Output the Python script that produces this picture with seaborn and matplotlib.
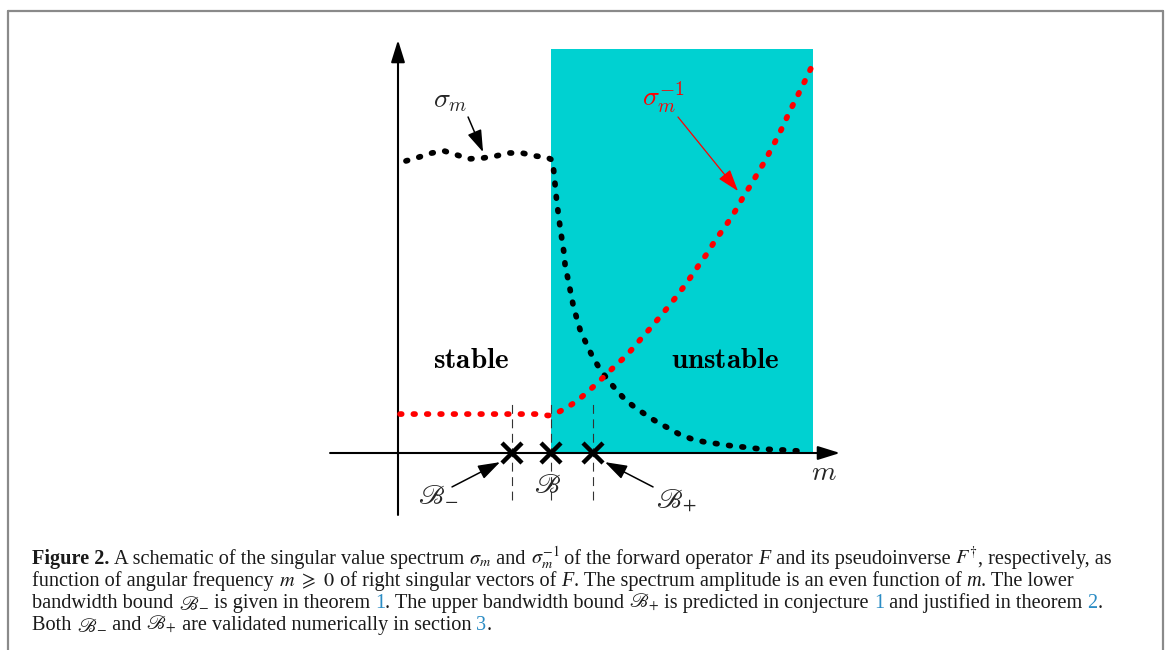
import numpy as np
import pandas as pd
import matplotlib
matplotlib.use("Agg")
import matplotlib.pyplot as plt
import seaborn as sns
from matplotlib.lines import Line2D
from matplotlib.patches import Rectangle

# ---------------- data (schematic units: m in units of B, sigma normalised to plateau) ----
sigma_m = [0.052, 0.137, 0.222, 0.301, 0.386, 0.464, 0.556, 0.641, 0.725, 0.810, 0.895,
           0.974, 1.010, 1.020, 1.037, 1.059, 1.072, 1.085, 1.093, 1.111, 1.129, 1.146,
           1.168, 1.194, 1.229, 1.268, 1.312, 1.364, 1.418, 1.477, 1.542, 1.621, 1.693,
           1.765, 1.837, 1.922, 2.007, 2.092, 2.183, 2.261, 2.346, 2.438, 2.523, 2.614]
sigma_vals = [0.990, 1.003, 1.017, 1.024, 1.010, 0.997, 1.000, 1.007, 1.017, 1.017, 1.007,
              1.002, 0.993, 0.946, 0.855, 0.767, 0.722, 0.678, 0.632, 0.590, 0.543, 0.498,
              0.457, 0.411, 0.373, 0.330, 0.291, 0.253, 0.219, 0.185, 0.157, 0.129, 0.105,
              0.085, 0.064, 0.047, 0.037, 0.031, 0.024, 0.020, 0.015, 0.012, 0.010, 0.007]
inv_m = [0.013, 0.300, 0.600, 0.928, 0.980, 1.013, 1.098, 1.163, 1.229, 1.294, 1.353,
         1.418, 1.484, 1.544, 1.599, 1.658, 1.712, 1.767, 1.822, 1.876, 1.926, 1.974,
         2.024, 2.072, 2.122, 2.170, 2.218, 2.257, 2.305, 2.348, 2.392, 2.436, 2.475,
         2.514, 2.549, 2.588, 2.627, 2.667, 2.706]
inv_vals = [0.132, 0.132, 0.132, 0.132, 0.127, 0.129, 0.152, 0.174, 0.202, 0.233, 0.262,
            0.295, 0.326, 0.360, 0.394, 0.428, 0.462, 0.496, 0.532, 0.569, 0.606, 0.643,
            0.679, 0.720, 0.756, 0.792, 0.832, 0.869, 0.908, 0.946, 0.984, 1.027, 1.065,
            1.106, 1.146, 1.187, 1.227, 1.269, 1.312]
bounds_m = [0.745, 1.0, 1.275]
bound_labels = [r'$\mathscr{B}_{-}$', r'$\mathscr{B}$', r'$\mathscr{B}_{+}$']
unstable_span = [1.0, 2.712]
unstable_top = 1.369
region_labels = [r'$\mathbf{stable}$', r'$\mathbf{unstable}$']

caption_lines = [
    [("Figure 2.", "b"), (" A schematic of the singular value spectrum ", "n"), (r"$\sigma_m$", "m"),
     (" and ", "n"), (r"$\sigma_m^{-1}$", "m"), (" of the forward operator ", "n"), ("F", "i"),
     (" and its pseudoinverse ", "n"), (r"$F^{\dagger}$", "m"), (", respectively, as", "n")],
    [("function of angular frequency ", "n"), (r"$m\ \geqslant\ 0$", "m"),
     (" of right singular vectors of ", "n"), ("F", "i"),
     (". The spectrum amplitude is an even function of ", "n"), ("m", "i"), (". The lower", "n")],
    [("bandwidth bound ", "n"), (r"$\mathscr{B}_{-}$", "m"), (" is given in theorem ", "n"), ("1", "l"),
     (". The upper bandwidth bound ", "n"), (r"$\mathscr{B}_{+}$", "m"),
     (" is predicted in conjecture ", "n"), ("1", "l"), (" and justified in theorem ", "n"),
     ("2", "l"), (".", "n")],
    [("Both ", "n"), (r"$\mathscr{B}_{-}$", "m"), (" and ", "n"), (r"$\mathscr{B}_{+}$", "m"),
     (" are validated numerically in section ", "n"), ("3", "l"), (".", "n")],
]

# ---------------- figure ----------------
sns.set_theme(style="white")
plt.rcParams["font.family"] = ["Liberation Serif", "DejaVu Serif"]

W, H = 1167, 650
fig = plt.figure(figsize=(W / 100, H / 100), dpi=100)
fig.patch.set_facecolor("white")

x0, y0, sx, sy = 398, 453, 153, 295
xlim = (-0.6, 3.0)
ylim = (-0.3, 1.5)
ax = fig.add_axes([(x0 + xlim[0] * sx) / W,
                   (H - (y0 - ylim[0] * sy)) / H,
                   (xlim[1] - xlim[0]) * sx / W,
                   (ylim[1] - ylim[0]) * sy / H])
ax.set_xlim(xlim)
ax.set_ylim(ylim)
ax.set_axis_off()

# unstable region
ax.add_patch(Rectangle((unstable_span[0], 0), unstable_span[1] - unstable_span[0], unstable_top,
                       facecolor="#00d1d1", edgecolor="none", zorder=0))

# axes arrows
axis_arrow = dict(arrowstyle="-|>,head_length=0.9,head_width=0.28", color="black", lw=1.5,
                  mutation_scale=15, shrinkA=0, shrinkB=0)
ax.annotate("", xy=(2.889, 0), xytext=(-0.444, 0), arrowprops=axis_arrow, zorder=3)
ax.annotate("", xy=(0, 1.400), xytext=(0, -0.210), arrowprops=axis_arrow, zorder=3)

# dotted curves
dot_style = dict(lw=4.1, linestyle=(0, (0.3, 2.05)), dash_capstyle="round")
sns.lineplot(x=sigma_m, y=sigma_vals, ax=ax, color="black", sort=False, estimator=None,
             zorder=4, **dot_style)
sns.lineplot(x=inv_m, y=inv_vals, ax=ax, color="#ff0000", sort=False, estimator=None,
             zorder=5, **dot_style)

# bounds: dashed guides and crosses
for b in bounds_m:
    ax.plot([b, b], [-0.159, 0.173], color="#333333", lw=0.8, linestyle=(0, (8, 5)), zorder=2)
ax.plot(bounds_m, [0] * len(bounds_m), linestyle="none", marker="x", ms=15, mew=3.2,
        color="black", zorder=6)

# labels
ax.text(0.340, 1.193, r"$\sigma_m$", math_fontfamily="cm", fontsize=20, ha="center", va="center")
ax.text(1.732, 1.207, r"$\sigma_m^{-1}$", math_fontfamily="cm", fontsize=20, ha="center",
        va="center", color="#ff0000")
ax.text(0.480, 0.288, region_labels[0], math_fontfamily="cm", fontsize=21, ha="center",
        va="baseline", color="black")
ax.text(2.141, 0.288, region_labels[1], math_fontfamily="cm", fontsize=21, ha="center",
        va="baseline", color="black")
ax.text(2.784, -0.071, r"$m$", math_fontfamily="cm", fontsize=20, ha="center", va="center")

lab_pos = [(0.261, -0.139), (0.974, -0.112), (1.817, -0.159)]
for (px, py), lab in zip(lab_pos, bound_labels):
    ax.text(px, py, lab, math_fontfamily="stix", fontsize=20, ha="center", va="center")

small_arrow = dict(arrowstyle="-|>,head_length=0.75,head_width=0.25", color="black", lw=1.1,
                   mutation_scale=18, shrinkA=0, shrinkB=0)
ax.annotate("", xy=(0.556, 1.020), xytext=(0.458, 1.139), arrowprops=small_arrow, zorder=7)
ax.annotate("", xy=(0.667, -0.031), xytext=(0.353, -0.115), arrowprops=small_arrow, zorder=7)
ax.annotate("", xy=(1.353, -0.031), xytext=(1.667, -0.115), arrowprops=small_arrow, zorder=7)
red_arrow = dict(small_arrow, color="#ff0000", lw=0.9)
ax.annotate("", xy=(2.222, 0.888), xytext=(1.830, 1.139), arrowprops=red_arrow, zorder=7)

# ---------------- frame ----------------
fcol = "#8a8a8a"
fig.add_artist(Line2D([8 / W, 8 / W], [0, 1 - 11 / H], color=fcol, lw=1.6, transform=fig.transFigure))
fig.add_artist(Line2D([8 / W, 1163 / W], [1 - 11 / H, 1 - 11 / H], color=fcol, lw=1.6,
                      transform=fig.transFigure))
fig.add_artist(Line2D([1163 / W, 1163 / W], [0, 1 - 11 / H], color=fcol, lw=1.6,
                      transform=fig.transFigure))

# ---------------- caption ----------------
renderer = fig.canvas.get_renderer()
cap_size = 14.55
styles = {
    "n": dict(fontsize=cap_size, color="#1a1a1a"),
    "b": dict(fontsize=cap_size, color="#1a1a1a", fontweight="bold"),
    "i": dict(fontsize=cap_size, color="#1a1a1a", style="italic"),
    "m": dict(fontsize=cap_size, color="#1a1a1a", math_fontfamily="stix"),
    "l": dict(fontsize=cap_size, color="#2b8cc4"),
}


def seg_width(s, props):
    if "$" in s:
        t = fig.text(0, 0, s, **props)
        w = t.get_window_extent(renderer).width
        t.remove()
        return w
    t1 = fig.text(0, 0, "|" + s + "|", **props)
    t2 = fig.text(0, 0, "||", **props)
    w = t1.get_window_extent(renderer).width - t2.get_window_extent(renderer).width
    t1.remove()
    t2.remove()
    return w


baselines = [564, 586, 608, 630]
for line, yb in zip(caption_lines, baselines):
    xp = 32.5
    for s, st in line:
        props = styles[st]
        fig.text(xp / W, 1 - yb / H, s, va="baseline", ha="left", **props)
        xp += seg_width(s, props)

fig.savefig("out.png", dpi=100, facecolor="white")
